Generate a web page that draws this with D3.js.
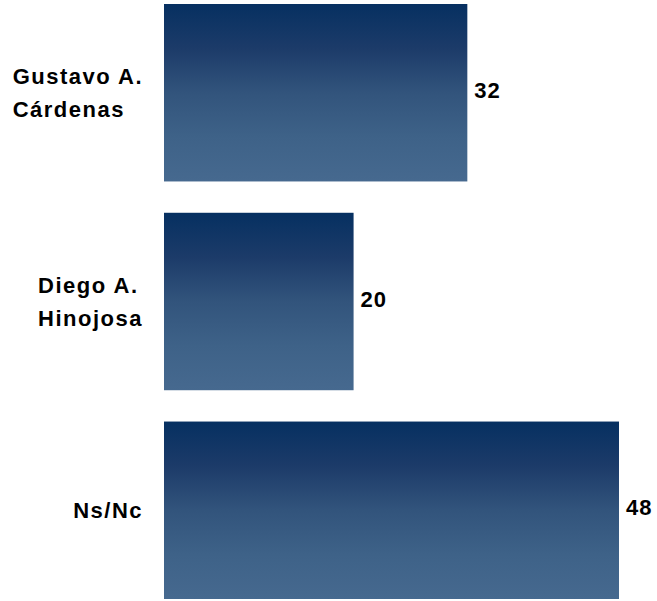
<!DOCTYPE html>
<html>
<head>
<meta charset="utf-8">
<script src="https://cdn.jsdelivr.net/npm/d3@7"></script>
<style>
  body { margin: 0; background: #fff; }
  text { font-family: "Liberation Sans", Arial, sans-serif; font-weight: bold; fill: #000; }
</style>
</head>
<body>
<div id="chart"></div>
<script>
var svgWidth = 657;
var svgHeight = 601;

// data
var names = ["Gustavo A.|Cárdenas", "Diego A.|Hinojosa", "Ns/Nc"];
var values = [32, 20, 48];

var margin = { top: 4, right: 36, bottom: 2, left: 164 };
var width = svgWidth - margin.left - margin.right;
var height = svgHeight - margin.top - margin.bottom;

var svg = d3.select("#chart")
  .append("svg")
  .attr("width", svgWidth)
  .attr("height", svgHeight);

// vertical gradient, dark navy at the top
var grad = svg.append("defs").append("linearGradient")
  .attr("id", "barGrad")
  .attr("x1", 0).attr("y1", 0)
  .attr("x2", 0).attr("y2", 1);
grad.append("stop").attr("offset", "0%").attr("stop-color", "#063061");
grad.append("stop").attr("offset", "25%").attr("stop-color", "#1c3b69");
grad.append("stop").attr("offset", "50%").attr("stop-color", "#32547c");
grad.append("stop").attr("offset", "75%").attr("stop-color", "#3e6288");
grad.append("stop").attr("offset", "100%").attr("stop-color", "#46698f");

var chartGroup = svg.append("g")
  .attr("transform", `translate(${margin.left}, ${margin.top})`);

var xScale = d3.scaleLinear()
  .domain([0, 48])
  .range([0, 455]);

var yScale = d3.scaleBand()
  .domain(names)
  .range([0, height])
  .paddingInner(0.15)
  .paddingOuter(0);

chartGroup.selectAll("rect")
  .data(values)
  .enter()
  .append("rect")
  .attr("x", 0)
  .attr("y", (d, i) => yScale(names[i]))
  .attr("width", d => xScale(d))
  .attr("height", yScale.bandwidth())
  .attr("fill", "url(#barGrad)");

// value labels
chartGroup.selectAll(".val")
  .data(values)
  .enter()
  .append("text")
  .attr("class", "val")
  .attr("x", d => xScale(d) + 7)
  .attr("y", (d, i) => yScale(names[i]) + yScale.bandwidth() / 2 + 5)
  .style("font-size", "22px")
  .style("letter-spacing", "1px")
  .text(d => d);

// category labels: lines left aligned, block right aligned
var labels = chartGroup.selectAll(".cat")
  .data(names)
  .enter()
  .append("text")
  .attr("class", "cat")
  .style("font-size", "22px")
  .style("letter-spacing", "1.5px");

labels.each(function(d) {
  var lines = d.split("|");
  var t = d3.select(this);
  var cy = yScale(d) + yScale.bandwidth() / 2 + 8;
  lines.forEach(function(line, i) {
    t.append("tspan")
      .attr("y", cy + (i - (lines.length - 1) / 2) * 33.5)
      .text(line);
  });
  var maxW = 0;
  t.selectAll("tspan").each(function() {
    maxW = Math.max(maxW, this.getComputedTextLength());
  });
  t.selectAll("tspan").attr("x", -21 - maxW);
});
</script>
</body>
</html>
